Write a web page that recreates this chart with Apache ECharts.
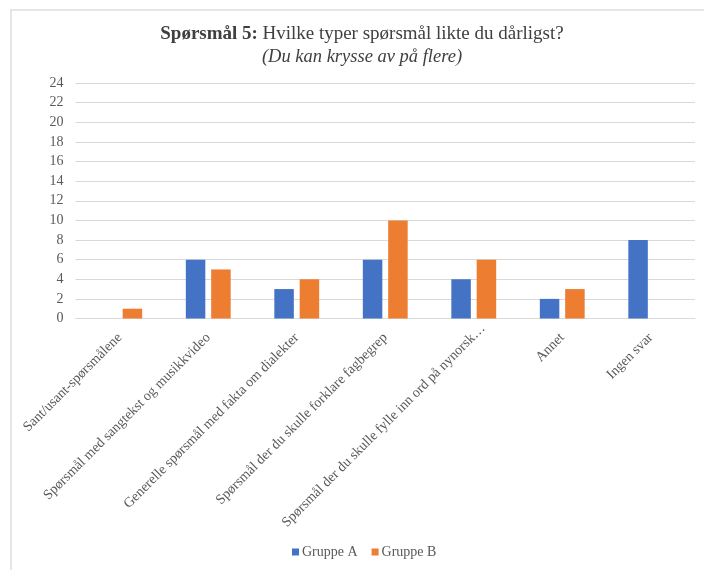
<!DOCTYPE html>
<html>
<head>
<meta charset="utf-8">
<script src="https://cdn.jsdelivr.net/npm/echarts@6/dist/echarts.min.js"></script>
<style>
  html, body { margin: 0; padding: 0; background: #ffffff; }
  #chart { width: 704px; height: 570px; }
</style>
</head>
<body>
<div id="chart"></div>
<script>
// Question categories (x axis)
const categories = [
  'Sant/usant-spørsmålene',
  'Spørsmål med sangtekst og musikkvideo',
  'Generelle spørsmål med fakta om dialekter',
  'Spørsmål der du skulle forklare fagbegrep',
  'Spørsmål der du skulle fylle inn ord på nynorsk…',
  'Annet',
  'Ingen svar'
];

// Number of answers per group
const gruppeA = [0, 6, 3, 6, 4, 2, 8];
const gruppeB = [1, 5, 4, 10, 6, 3, 0];

// Y axis range
const yMin = 0;
const yMax = 24;
const yStep = 2;

const serif = '"Liberation Serif", "Times New Roman", serif';
const textGray = '#595959';
const titleGray = '#404040';

const chart = echarts.init(document.getElementById('chart'));

chart.setOption({
  backgroundColor: '#ffffff',
  animation: false,
  textStyle: { fontFamily: serif },
  graphic: [{
    type: 'rect',
    shape: { x: 11, y: 10, width: 720, height: 600 },
    style: { fill: 'none', stroke: '#dedede', lineWidth: 1.5 },
    silent: true,
    z: -1
  }],
  title: {
    left: 357,
    top: 20,
    textAlign: 'center',
    text: '{b|Spørsmål 5:} {n|Hvilke typer spørsmål likte du dårligst?}',
    textStyle: {
      rich: {
        b: { fontFamily: serif, fontSize: 19, fontWeight: 'bold', color: titleGray },
        n: { fontFamily: serif, fontSize: 19, fontWeight: 'normal', color: titleGray }
      }
    },
    subtext: '(Du kan krysse av på flere)',
    itemGap: 4,
    subtextStyle: {
      fontFamily: serif,
      fontSize: 18.5,
      fontStyle: 'italic',
      color: titleGray
    }
  },
  legend: {
    bottom: 6,
    left: 287,
    itemWidth: 7,
    itemHeight: 7,
    itemGap: 14,
    icon: 'rect',
    textStyle: { fontFamily: serif, fontSize: 14, color: textGray, padding: [0, 0, 0, -2] },
    data: ['Gruppe A', 'Gruppe B']
  },
  grid: {
    left: 75.5,
    right: 9,
    top: 83,
    bottom: 251.5,
    containLabel: false
  },
  xAxis: {
    type: 'category',
    data: categories,
    axisLine: { show: true, lineStyle: { color: '#d9d9d9', width: 1 } },
    axisTick: { show: false },
    axisLabel: {
      interval: 0,
      rotate: 45,
      margin: 17,
      fontFamily: serif,
      fontSize: 14,
      color: textGray,
      // the truncated label sits a little further along its baseline
      formatter: function (v) {
        return v.endsWith('…') ? '{l|' + v + '}' : v;
      },
      rich: {
        l: { fontFamily: serif, fontSize: 14, color: textGray, padding: [0, -13, 0, 0] }
      }
    }
  },
  yAxis: {
    type: 'value',
    min: yMin,
    max: yMax,
    interval: yStep,
    axisLine: { show: false },
    axisTick: { show: false },
    axisLabel: {
      margin: 12,
      fontFamily: serif,
      fontSize: 14,
      color: textGray
    },
    splitLine: { lineStyle: { color: '#d9d9d9', width: 1 } }
  },
  series: [
    {
      name: 'Gruppe A',
      type: 'bar',
      data: gruppeA,
      barWidth: 19.5,
      barGap: '30%',
      itemStyle: { color: '#4472C4' }
    },
    {
      name: 'Gruppe B',
      type: 'bar',
      data: gruppeB,
      barWidth: 19.5,
      barGap: '30%',
      itemStyle: { color: '#ED7D31' }
    }
  ]
});
</script>
</body>
</html>
